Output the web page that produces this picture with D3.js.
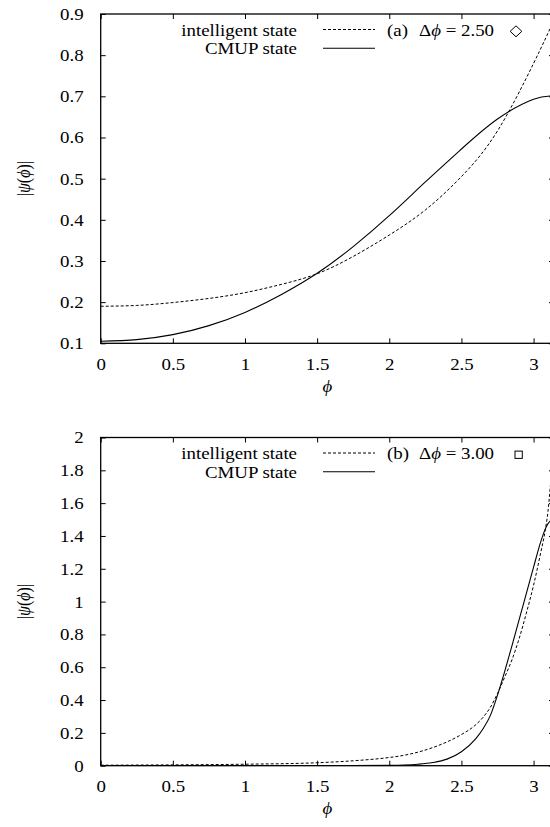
<!DOCTYPE html>
<html>
<head>
<meta charset="utf-8">
<script src="https://cdn.jsdelivr.net/npm/d3@7"></script>
<style>
  html, body { margin: 0; padding: 0; background: #fff; }
  svg { display: block; overflow: hidden; }
</style>
</head>
<body>
<div id="chart"></div>
<script>
// panel (a): delta phi = 2.50
const phiA = [0, 0.25, 0.5, 0.75, 1.0, 1.25, 1.5, 1.75, 2.0, 2.25, 2.5, 2.75, 3.0, Math.PI];
const intelA = [0.19, 0.192, 0.199, 0.209, 0.223, 0.243, 0.269, 0.311, 0.363, 0.424, 0.505, 0.616, 0.78, 0.885];
const cmupA = [0.105, 0.109, 0.121, 0.143, 0.175, 0.218, 0.270, 0.335, 0.410, 0.492, 0.572, 0.645, 0.693, 0.701];

// panel (b): delta phi = 3.00
const phiB = [0, 0.5, 1.0, 1.5, 1.75, 2.0, 2.1, 2.2, 2.3, 2.4, 2.5, 2.6, 2.65, 2.7, 2.75, 2.8, 2.85, 2.9, 2.95, 3.0, 3.05, 3.08, 3.1, 3.12, Math.PI];
const intelB = [0.003, 0.005, 0.009, 0.018, 0.03, 0.05, 0.063, 0.083, 0.11, 0.145, 0.19, 0.25, 0.295, 0.355, 0.44, 0.54, 0.645, 0.775, 0.93, 1.10, 1.30, 1.43, 1.55, 1.74, 1.95];
const cmupB = [0, 0, 0, 0, 0.0005, 0.002, 0.004, 0.009, 0.019, 0.04, 0.085, 0.165, 0.225, 0.305, 0.43, 0.575, 0.73, 0.89, 1.05, 1.21, 1.365, 1.44, 1.475, 1.495, 1.505];

const xTicks = [0, 0.5, 1, 1.5, 2, 2.5, 3];
const xTickLabels = ["0", "0.5", "1", "1.5", "2", "2.5", "3"];
const yTicksA = [0.1, 0.2, 0.3, 0.4, 0.5, 0.6, 0.7, 0.8, 0.9];
const yTicksB = [0, 0.2, 0.4, 0.6, 0.8, 1, 1.2, 1.4, 1.6, 1.8, 2];

const W = 550, H = 827;
const FONT = "Liberation Serif, Times New Roman, Times, serif";
const SX = 1.18; // the figure is stretched sideways, text too
const PHI = "\u03D5";
const left = 100.7, right = 554;

const svg = d3.select("#chart").append("svg")
  .attr("width", W).attr("height", H)
  .attr("font-family", FONT).attr("font-size", 16);

function label(parent, x, y, anchor, parts, rot) {
  const t = parent.append("text")
    .attr("transform", `translate(${x},${y}) scale(${SX},1)` + (rot ? ` rotate(${rot})` : ""))
    .attr("text-anchor", anchor)
    .attr("font-family", FONT).attr("font-size", 16).attr("fill", "#000");
  for (const p of parts) {
    const s = t.append("tspan").text(p[0]);
    if (p[1]) s.attr("font-style", "italic");
  }
  return t;
}

function panel(o) {
  const x = d3.scaleLinear().domain([0, Math.PI]).range([left, right]);
  const y = d3.scaleLinear().domain(o.yDomain).range([o.bottom, o.top]);
  const g = svg.append("g");

  const clipId = "clip" + o.id;
  g.append("clipPath").attr("id", clipId)
    .append("rect").attr("x", left).attr("y", o.top)
    .attr("width", right - left).attr("height", o.bottom - o.top);

  // ticks on all four sides, pointing inward
  const bottomAx = g.append("g").attr("transform", `translate(0,${o.bottom})`)
    .call(d3.axisBottom(x).tickValues(xTicks).tickSize(-5).tickSizeOuter(0)
      .tickFormat((d, i) => xTickLabels[i]));
  bottomAx.selectAll("text").attr("y", 26.5).attr("dy", null)
    .attr("transform", `scale(${SX},1)`);
  g.append("g").attr("transform", `translate(0,${o.top})`)
    .call(d3.axisTop(x).tickValues(xTicks).tickSize(-5).tickSizeOuter(0).tickFormat(""));

  const leftAx = g.append("g").attr("transform", `translate(${left},0)`)
    .call(d3.axisLeft(y).tickValues(o.yTicks).tickSize(-5).tickSizeOuter(0)
      .tickFormat(d3.format("~g")));
  leftAx.selectAll("text").attr("x", -17 / SX).attr("dy", "0.34em")
    .attr("transform", `scale(${SX},1)`);
  g.append("g").attr("transform", `translate(${right},0)`)
    .call(d3.axisRight(y).tickValues(o.yTicks).tickSize(-5).tickSizeOuter(0).tickFormat(""));

  g.selectAll(".domain").remove();
  g.selectAll("g").attr("font-family", FONT).attr("font-size", 16);
  g.selectAll(".tick line").attr("stroke", "#000").attr("stroke-width", 1);
  g.selectAll(".tick text").attr("font-family", FONT).attr("font-size", 16).attr("fill", "#000");

  g.append("rect").attr("x", left).attr("y", o.top)
    .attr("width", right - left).attr("height", o.bottom - o.top)
    .attr("fill", "none").attr("stroke", "#000").attr("stroke-width", 1.3);

  const line = d3.line().curve(o.curve)
    .x(d => x(d[0])).y(d => y(d[1]));
  const curves = g.append("g").attr("clip-path", `url(#${clipId})`);
  curves.append("path").datum(o.phi.map((p, i) => [p, o.intel[i]]))
    .attr("d", line).attr("fill", "none").attr("stroke", "#000")
    .attr("stroke-width", 1).attr("stroke-dasharray", "3,2");
  curves.append("path").datum(o.phi.map((p, i) => [p, o.cmup[i]]))
    .attr("d", line).attr("fill", "none").attr("stroke", "#000")
    .attr("stroke-width", 1.1);

  // legend
  const l1 = o.top + 21.7, l2 = o.top + 40;
  label(g, 297, l1, "end", [["intelligent state"]]);
  label(g, 297, l2, "end", [["CMUP state"]]);
  g.append("line").attr("x1", 323).attr("x2", 375)
    .attr("y1", o.top + 15.5).attr("y2", o.top + 15.5)
    .attr("stroke", "#000").attr("stroke-width", 1).attr("stroke-dasharray", "3,2");
  g.append("line").attr("x1", 323).attr("x2", 375)
    .attr("y1", o.top + 34.3).attr("y2", o.top + 34.3)
    .attr("stroke", "#000").attr("stroke-width", 1.1);
  label(g, 387, l1, "start", [[o.tag]]);
  label(g, 419, l1, "start", [["Δ"], [PHI, true], [" = " + o.dphi]]);
  const mx = 516, my = o.top + 17.3;
  if (o.marker === "diamond") {
    g.append("path")
      .attr("d", `M${mx - 5.8},${my}L${mx},${my - 5.5}L${mx + 5.8},${my}L${mx},${my + 5.5}Z`)
      .attr("fill", "none").attr("stroke", "#000").attr("stroke-width", 1);
  } else {
    g.append("rect").attr("x", mx - 1).attr("y", my - 3.7).attr("width", 7.3).attr("height", 7.3)
      .attr("fill", "none").attr("stroke", "#000").attr("stroke-width", 1);
  }

  // axis titles
  label(g, 23, (o.top + o.bottom) / 2, "middle",
    [["|"], ["ψ", true], ["("], [PHI, true], [")|"]], -90).attr("dy", "0.35em");
  label(g, (left + right) / 2, o.bottom + 48.5, "middle", [[PHI, true]]);
}

panel({ id: "a", top: 14, bottom: 343.3, yDomain: [0.1, 0.9], yTicks: yTicksA,
  phi: phiA, intel: intelA, cmup: cmupA, curve: d3.curveNatural,
  tag: "(a)", dphi: "2.50", marker: "diamond" });
panel({ id: "b", top: 437.5, bottom: 765.7, yDomain: [0, 2], yTicks: yTicksB,
  phi: phiB, intel: intelB, cmup: cmupB, curve: d3.curveMonotoneX,
  tag: "(b)", dphi: "3.00", marker: "square" });
</script>
</body>
</html>
